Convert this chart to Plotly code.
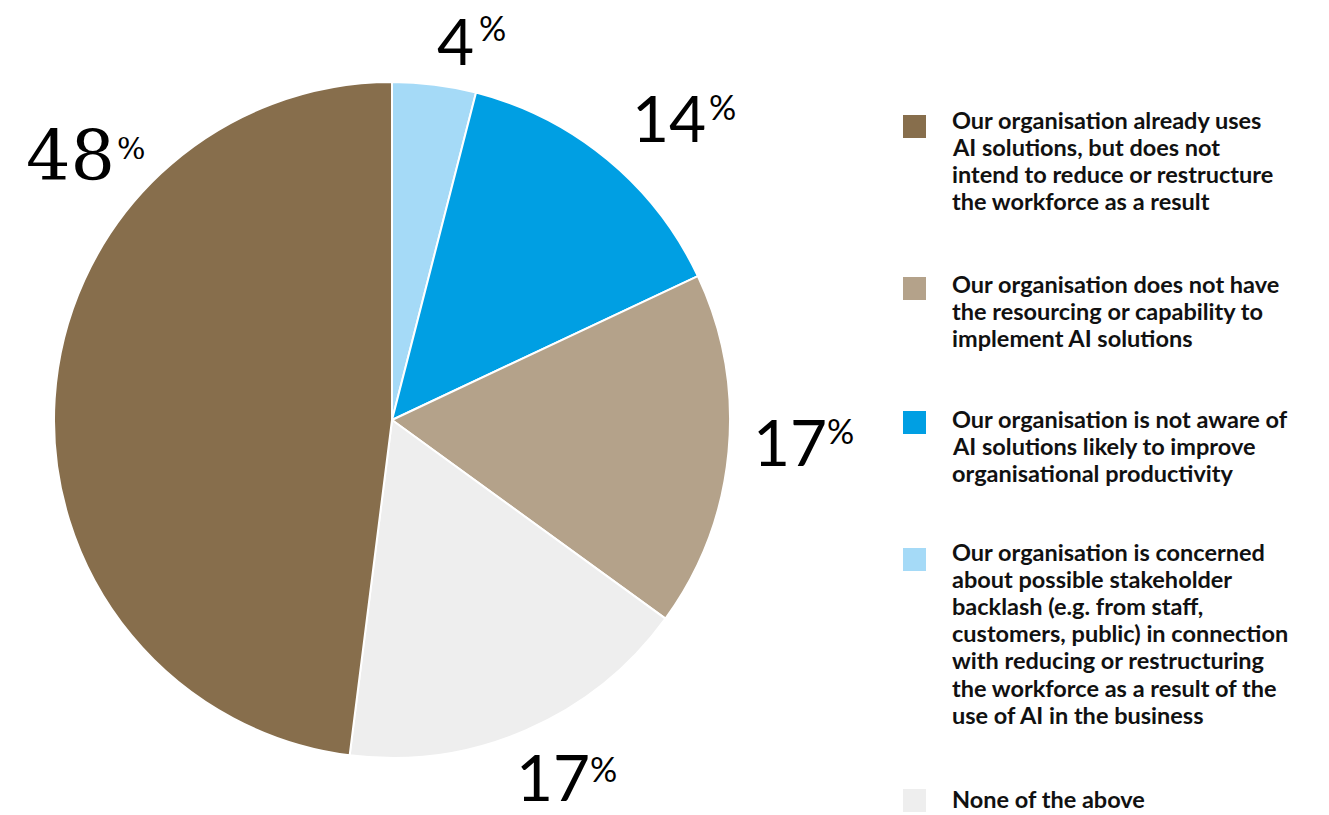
import plotly.graph_objects as go

W, H = 1329, 815

# Slices in clockwise order starting at 12 o'clock
slice_labels = [
    "Our organisation is concerned about possible stakeholder backlash",
    "Our organisation is not aware of AI solutions",
    "Our organisation does not have the resourcing or capability",
    "None of the above",
    "Our organisation already uses AI solutions",
]
slice_values = [4, 14, 17, 17, 48]
slice_colors = ["#A5DAF7", "#009FE3", "#B4A28A", "#EEEEEE", "#876E4C"]

# Legend entries (top to bottom)
legend_text = [
    ["Our organisation already uses", "AI solutions, but does not",
     "intend to reduce or restructure", "the workforce as a result"],
    ["Our organisation does not have", "the resourcing or capability to",
     "implement AI solutions"],
    ["Our organisation is not aware of", "AI solutions likely to improve",
     "organisational productivity"],
    ["Our organisation is concerned", "about possible stakeholder",
     "backlash (e.g. from staff,", "customers, public) in connection",
     "with reducing or restructuring", "the workforce as a result of the",
     "use of AI in the business"],
    ["None of the above"],
]
legend_colors = ["#876E4C", "#B4A28A", "#009FE3", "#A5DAF7", "#EEEEEE"]
legend_line1_y = [120, 284, 419, 552, 799]
legend_box_tops = [115, 277, 411, 548, 789]
LINE_PITCH = 27.1

# Percentage labels: value, number centre (px), percent-sign centre (px), serif?
label_values = [48, 4, 14, 17, 17]
label_num_xy = [(70, 156), (455, 40), (669, 117), (790, 441), (553, 776)]
label_pct_xy = [(131, 148), (492, 27), (722, 106), (840, 431), (603, 768)]
label_serif = [True, False, False, False, False]


def px(x, y):
    return x / W, 1 - y / H


fig = go.Figure()

cx0, cx1 = 54, 730
cy0, cy1 = 82, 758
fig.add_trace(go.Pie(
    labels=slice_labels,
    values=slice_values,
    sort=False,
    direction="clockwise",
    rotation=0,
    marker=dict(colors=slice_colors, line=dict(color="white", width=2)),
    textinfo="none",
    hoverinfo="label+percent",
    showlegend=False,
    domain=dict(x=[cx0 / W, cx1 / W], y=[1 - cy1 / H, 1 - cy0 / H]),
))

annotations = []
shapes = []

for v, (nx, ny), (qx, qy), serif in zip(label_values, label_num_xy, label_pct_xy, label_serif):
    if serif:
        nfont = dict(family="DejaVu Serif", size=70, color="#000000", weight=400)
        pfont = dict(family="DejaVu Serif", size=30, color="#000000", weight=400)
    else:
        nfont = dict(family="Lato", size=64, color="#000000", weight=400)
        pfont = dict(family="Lato", size=34, color="#000000", weight=400)
    x, y = px(nx, ny)
    annotations.append(dict(x=x, y=y, xref="paper", yref="paper", text=str(v),
                            showarrow=False, xanchor="center", yanchor="middle",
                            borderpad=0, font=nfont))
    x, y = px(qx, qy)
    annotations.append(dict(x=x, y=y, xref="paper", yref="paper", text="%",
                            showarrow=False, xanchor="center", yanchor="middle",
                            borderpad=0, font=pfont))

for lines, col, y_first, box_top in zip(legend_text, legend_colors,
                                        legend_line1_y, legend_box_tops):
    x0, y0 = px(903, box_top)
    x1, y1 = px(926, box_top + 23)
    shapes.append(dict(type="rect", xref="paper", yref="paper",
                       x0=x0, x1=x1, y0=y1, y1=y0,
                       fillcolor=col, line=dict(width=0)))
    for i, line in enumerate(lines):
        x, y = px(951, y_first + i * LINE_PITCH)
        annotations.append(dict(x=x, y=y, xref="paper", yref="paper",
                                text=line, showarrow=False,
                                xanchor="left", yanchor="middle", align="left",
                                borderpad=0,
                                font=dict(family="Lato", size=23.5,
                                          color="#111111", weight="bold")))

fig.update_layout(
    width=W, height=H,
    margin=dict(l=0, r=0, t=0, b=0),
    paper_bgcolor="white",
    plot_bgcolor="white",
    annotations=annotations,
    shapes=shapes,
)

fig.write_html("out.html")
